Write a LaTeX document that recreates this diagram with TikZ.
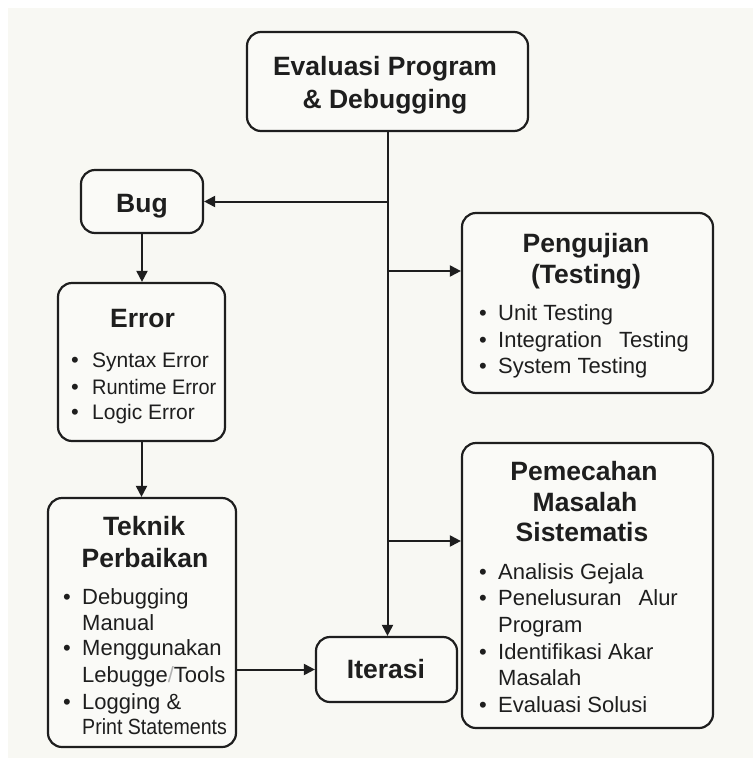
\documentclass[tikz,border=0pt]{standalone}
\usepackage{fontspec}
\setmainfont{Liberation Sans}
\usetikzlibrary{arrows.meta}
\definecolor{bgc}{HTML}{F8F8F3}
\definecolor{boxc}{HTML}{FAFAF7}
\definecolor{ink}{HTML}{1E1E1E}
\tikzset{
  box/.style={draw=ink, line width=2.2pt, rounded corners=14pt, fill=boxc, inner sep=0pt},
  ttl/.style={font=\bfseries\fontsize{26.5}{32}\selectfont, text=ink, inner sep=0pt, anchor=base},
  itm/.style={font=\fontsize{22}{26}\selectfont, text=ink, inner sep=0pt, anchor=base west},
  bul/.style={font=\fontsize{22}{26}\selectfont, text=ink, inner sep=0pt, anchor=base},
  conn/.style={draw=ink, line width=2pt},
  arr/.style={conn, -{Triangle[length=11pt,width=11pt]}},
}
\begin{document}
\begin{tikzpicture}[x=1pt,y=-1pt]
\fill[white] (0,0) rectangle (753,758);
\fill[bgc] (8,8) rectangle (753,758);
\useasboundingbox (0,0) rectangle (753,758);
% boxes
\node[box, minimum width=281pt, minimum height=99pt] (top) at (387.5,81.5) {};
\node[box, minimum width=122pt, minimum height=63pt] (bug) at (142,201.5) {};
\node[box, minimum width=167pt, minimum height=158pt] (err) at (141.5,362) {};
\node[box, minimum width=188pt, minimum height=249pt] (tek) at (142,622.5) {};
\node[box, minimum width=251pt, minimum height=180pt] (pen) at (587.5,303) {};
\node[box, minimum width=251pt, minimum height=285pt] (pem) at (587.5,585.5) {};
\node[box, minimum width=141pt, minimum height=65pt] (ite) at (386.5,669.5) {};
% connectors
\coordinate (j1) at (387.5,201.5);
\coordinate (j2) at (387.5,271);
\coordinate (j3) at (387.5,541);
\draw[arr] (top.south) -- (top.south |- ite.north);
\draw[arr] (j1) -- (bug.east);
\draw[arr] (j2) -- (j2 -| pen.west);
\draw[arr] (j3) -- (j3 -| pem.west);
\draw[arr] (bug.south) -- (bug.south |- err.north);
\draw[arr] (err.south) -- (err.south |- tek.north);
\draw[arr] (tek.east |- ite.west) -- (ite.west);
% titles
\node[ttl] (topt1) at (385,75) {Evaluasi Program};
\node[ttl] (topt2) at (385,108) {\& Debugging};
\node[ttl] (bugt) at (142,212) {Bug};
\node[ttl] (errt) at (142.5,327) {Error};
\node[ttl] (tekt1) at (144,535) {Teknik};
\node[ttl] (tekt2) at (145,567) {Perbaikan};
\node[ttl] (pent1) at (586,252) {Pengujian};
\node[ttl] (pent2) at (586,283) {(Testing)};
\node[ttl] (pemt1) at (584,480) {Pemecahan};
\node[ttl] (pemt2) at (585,511) {Masalah};
\node[ttl] (pemt3) at (582,541) {Sistematis};
\node[ttl] (itet) at (386,678) {Iterasi};
% Error items
\node[bul] (eb1) at (75,367) {•};
\node[bul] (eb2) at (75,394) {•};
\node[bul] (eb3) at (75,419) {•};
\node[itm, font=\fontsize{21}{25}\selectfont] (ei1) at (92,367) {Syntax Error};
\node[itm, font=\fontsize{21}{25}\selectfont] (ei2) at (92,394) {\scalebox{0.95}[1]{Runtime Error}};
\node[itm, font=\fontsize{21}{25}\selectfont] (ei3) at (92,419) {Logic Error};
% Teknik items
\node[bul] (tb1) at (67,604) {•};
\node[bul] (tb2) at (67,655) {•};
\node[bul] (tb3) at (67,709) {•};
\node[itm] (ti1) at (82,604) {Debugging};
\node[itm] (ti2) at (82,630) {Manual};
\node[itm] (ti3) at (82,655) {Menggunakan};
\node[itm] (ti4) at (82,682) {Lebugge{\color{gray!60}/}Tools};
\node[itm] (ti5) at (82,709) {Logging \&};
\node[itm] (ti6) at (82,734) {\scalebox{0.89}[1]{Print Statements}};
% Pengujian items
\node[bul] (pb1) at (483,320) {•};
\node[bul] (pb2) at (483,347) {•};
\node[bul] (pb3) at (483,373) {•};
\node[itm] (pi1) at (498,320) {Unit Testing};
\node[itm] (pi2) at (498,347) {Integration\hspace{17pt}Testing};
\node[itm] (pi3) at (498,373) {System Testing};
% Pemecahan items
\node[bul] (mb1) at (483,579) {•};
\node[bul] (mb2) at (483,605) {•};
\node[bul] (mb3) at (483,659) {•};
\node[bul] (mb4) at (483,712) {•};
\node[itm] (mi1) at (498,579) {Analisis Gejala};
\node[itm] (mi2) at (498,605) {Penelusuran\hspace{17pt}Alur};
\node[itm] (mi3) at (498,632) {Program};
\node[itm] (mi4) at (498,659) {Identifikasi Akar};
\node[itm] (mi5) at (498,685) {Masalah};
\node[itm] (mi6) at (498,712) {Evaluasi Solusi};
\end{tikzpicture}
\end{document}
